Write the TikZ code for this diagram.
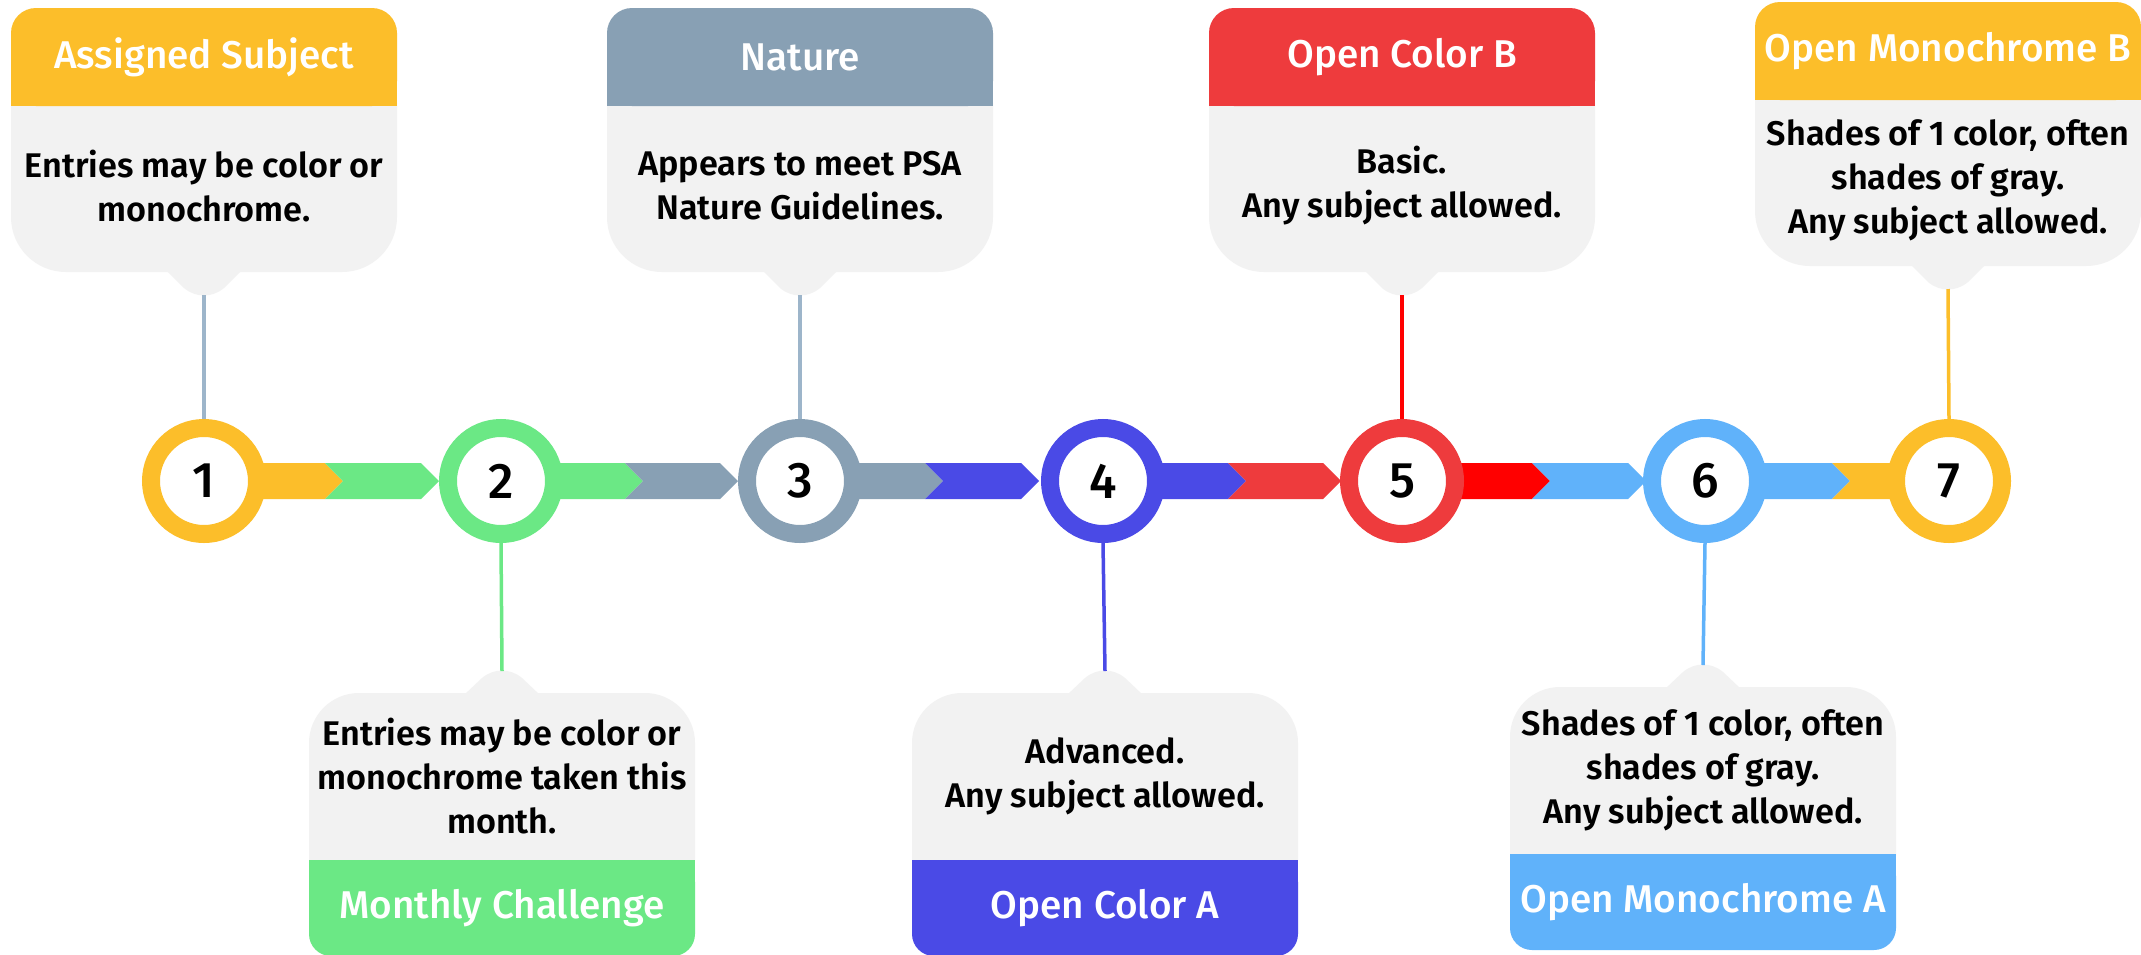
\documentclass[tikz,border=0pt]{standalone}
\usepackage{fontspec}
\setmainfont{Fira Sans}
\newfontfamily\fmed{Fira Sans Medium}
\newfontfamily\fsemi{Fira Sans SemiBold}
\definecolor{corange}{HTML}{FCBE2A}
\definecolor{cgreen}{HTML}{6BE885}
\definecolor{cgray}{HTML}{88A0B4}
\definecolor{cblue}{HTML}{4A4AE6}
\definecolor{cred}{HTML}{EE3B3D}
\definecolor{cpure}{HTML}{FF0000}
\definecolor{clblue}{HTML}{60B2FA}
\definecolor{clgray}{HTML}{F2F2F2}
\definecolor{cline}{HTML}{9DB5CA}
% top box: cx, top, colour, header, body, name
\newcommand\topbox[6]{%
  \fill[clgray, rounded corners=55pt] (#1-193,#2+40) rectangle (#1+193,#2+264);
  \fill[#3, rounded corners=25pt] (#1-193,#2) rectangle (#1+193,#2+98);
  \fill[#3] (#1-193,#2+40) rectangle (#1+193,#2+98);
  \fill[clgray] (#1-38,#2+262) -- (#1-20,#2+280) .. controls (#1-8,#2+290) and (#1+8,#2+290) .. (#1+20,#2+280) -- (#1+38,#2+262) -- cycle;
  \node[hdr] (h#6) at (#1,#2+49) {#4};
  \node[bodytxt] (b#6) at (#1,#2+178) {#5};
  \coordinate (t#6) at (#1,#2+287);
}
% bottom box: cx, tab top, colour, footer, body, name
\newcommand\botbox[6]{%
  \fill[clgray, rounded corners=50pt] (#1-193,#2+22) rectangle (#1+193,#2+240);
  \fill[#3, rounded corners=22pt] (#1-193,#2+189) rectangle (#1+193,#2+285);
  \fill[#3] (#1-193,#2+189) rectangle (#1+193,#2+240);
  \fill[clgray] (#1-38,#2+24) -- (#1-20,#2+7) .. controls (#1-8,#2-3) and (#1+8,#2-3) .. (#1+20,#2+7) -- (#1+38,#2+24) -- cycle;
  \node[hdr] (h#6) at (#1,#2+237) {#4};
  \node[bodytxt] (b#6) at (#1,#2+105) {#5};
  \coordinate (t#6) at (#1,#2);
}
\newcommand\segA[3]{\fill[#3] (#1,463) -- (#2,463) -- (#2+18,481) -- (#2,499) -- (#1,499) -- cycle;}
\newcommand\segB[3]{\fill[#3] (#1,463) -- (#2,463) -- (#2+18,481) -- (#2,499) -- (#1,499) -- (#1+18,481) -- cycle;}
\begin{document}
\begin{tikzpicture}[x=1pt,y=-1pt,
  hdr/.style={text=white, inner sep=0pt, font=\fmed\fontsize{38.7}{44}\selectfont},
  bodytxt/.style={align=center, inner sep=0pt, text=black, font=\fsemi\fontsize{34.2}{44}\selectfont},
  num/.style={circle, minimum size=106pt, line width=18pt, fill=white, inner sep=0pt, font=\fmed\fontsize{50}{50}\selectfont},
  conn/.style={line width=3.5pt}]
\useasboundingbox (0,0) rectangle (2141,954);
\fill[white] (0,0) rectangle (2141,954);

\topbox{204}{8}{corange}{Assigned Subject}{Entries may be color or\\monochrome.}{1}
\topbox{800}{8}{cgray}{Nature}{Appears to meet PSA\\Nature Guidelines.}{3}
\topbox{1402}{8}{cred}{Open Color B}{Basic.\\Any subject allowed.}{5}
\topbox{1948}{2}{corange}{Open Monochrome B}{Shades of 1 color, often\\shades of gray.\\Any subject allowed.}{7}

\botbox{502}{671}{cgreen}{Monthly Challenge}{Entries may be color or\\monochrome taken this\\month.}{2}
\botbox{1105}{671}{cblue}{Open Color A}{Advanced.\\Any subject allowed.}{4}
\botbox{1703}{665}{clblue}{Open Monochrome A}{Shades of 1 color, often\\shades of gray.\\Any subject allowed.}{6}

% bar
\segA{204}{325}{corange}
\segB{325}{421}{cgreen}
\segA{501}{625}{cgreen}
\segB{625}{720}{cgray}
\segA{800}{925}{cgray}
\segB{925}{1021}{cblue}
\segA{1103}{1228}{cblue}
\segB{1228}{1323}{cred}
\segA{1402}{1532}{cpure}
\segB{1532}{1628}{clblue}
\segA{1705}{1832}{clblue}
\fill[corange] (1832,463) -- (1949,463) -- (1949,499) -- (1832,499) -- (1850,481) -- cycle;

% circles
\node[num, draw=corange] (c1) at (204,481) {1};
\node[num, draw=cgreen] (c2) at (501,481) {2};
\node[num, draw=cgray] (c3) at (800,481) {3};
\node[num, draw=cblue] (c4) at (1103,481) {4};
\node[num, draw=cred] (c5) at (1402,481) {5};
\node[num, draw=clblue] (c6) at (1705,481) {6};
\node[num, draw=corange] (c7) at (1949,481) {7};

% connectors
\draw[conn, cline] (t1) -- (c1.north);
\draw[conn, cgreen] (t2) -- (c2.south);
\draw[conn, cline] (t3) -- (c3.north);
\draw[conn, cblue] (t4) -- (c4.south);
\draw[conn, cpure] (t5) -- (c5.north);
\draw[conn, clblue] (t6) -- (c6.south);
\draw[conn, corange] (t7) -- (c7.north);
\end{tikzpicture}
\end{document}
